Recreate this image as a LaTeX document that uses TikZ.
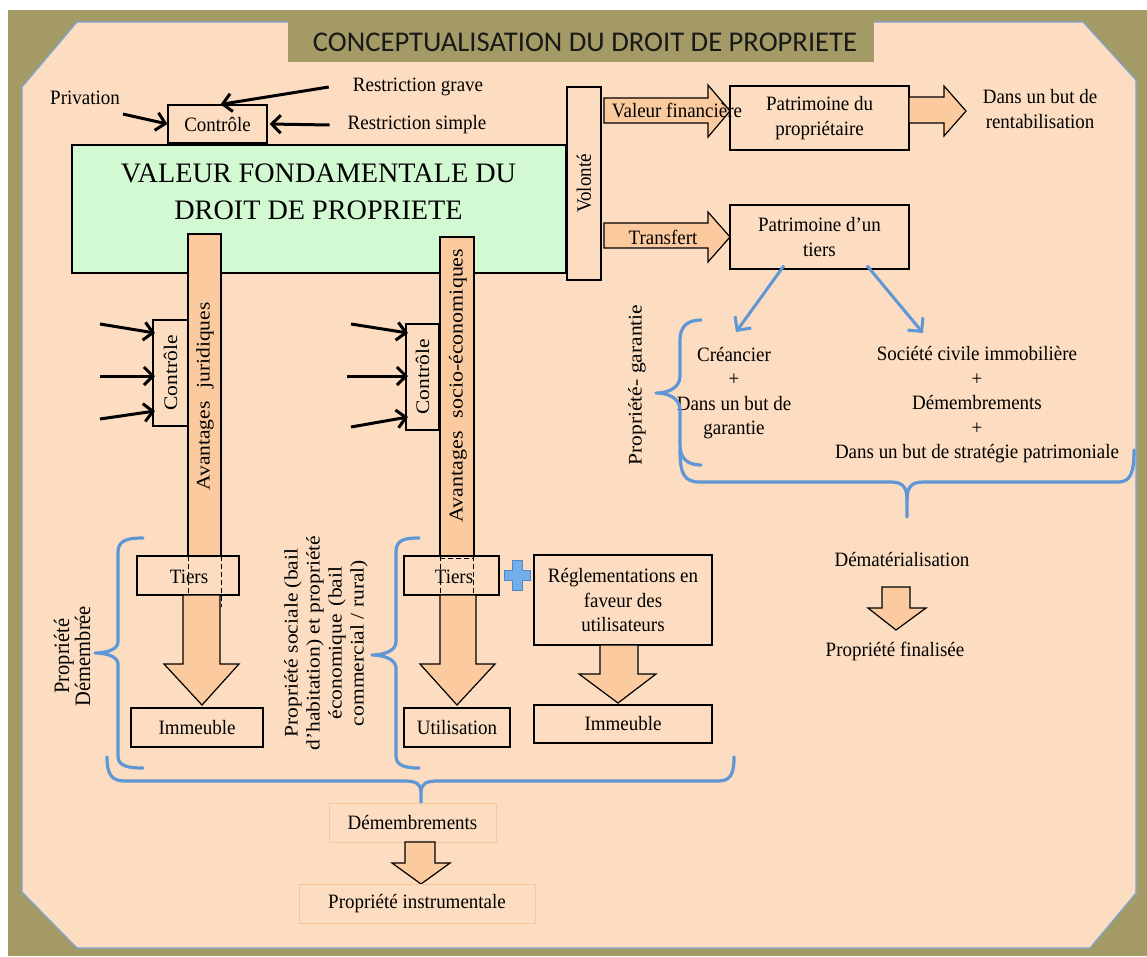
\documentclass[tikz,border=0pt]{standalone}
\usepackage{fontspec}
\setmainfont{Liberation Serif}
\newfontfamily\lblfont[FakeStretch=0.93]{Liberation Serif}
\newfontfamily\titlefont{Carlito}
\newfontfamily\palfont[FakeStretch=1.12]{Liberation Serif}
\usetikzlibrary{arrows.meta}
\definecolor{frameolive}{HTML}{A39A65}
\definecolor{peach}{HTML}{FCDDC1}
\definecolor{barorange}{HTML}{FBCA9F}
\definecolor{mint}{HTML}{D3F9D3}
\definecolor{braceblue}{HTML}{5F97D6}
\definecolor{panelblue}{HTML}{7DA4D6}
\definecolor{lightorange}{HTML}{F9C497}
\definecolor{plusblue}{HTML}{74AEEA}
\definecolor{plusdark}{HTML}{4F86C8}
\newcommand\lblf{\lblfont\fontsize{20.4}{24.5}\selectfont}
\newcommand\bigf{\fontsize{28.2}{37}\selectfont}
\newcommand\ttlf{\titlefont\fontsize{28.6}{34}\selectfont}
\newcommand\palf{\palfont\fontsize{19.2}{22}\selectfont}
\newcommand\pdf{\lblfont\fontsize{22}{21}\selectfont}
\begin{document}
\begin{tikzpicture}[x=1pt,y=-1pt,
  box/.style={draw=black,line width=1.2pt,fill=peach,inner sep=0pt,font=\lblf,align=center},
  lightbox/.style={draw=lightorange,line width=1pt,inner sep=0pt,font=\lblf},
  lbl/.style={font=\lblf,align=center,inner sep=0pt},
  pal/.style={font=\palf,align=center,inner sep=0pt},
  blockarr/.style={draw=black,line width=1.2pt,fill=barorange,line join=miter},
  bar/.style={draw=black,line width=1.2pt,fill=barorange,inner sep=0pt},
  karrow/.style={draw=black,line width=3pt,-{Straight Barb[length=9pt,width=18pt]}},
  barrow/.style={draw=braceblue,line width=3pt,-{Straight Barb[length=10pt,width=20pt]}},
  bracepath/.style={draw=braceblue,line width=3.2pt,line cap=round,line join=round},
  dashline/.style={draw=black,line width=1pt,dash pattern=on 5pt off 3pt}
]
\useasboundingbox (0,0) rectangle (1147,956);
% frame
\fill[white] (0,0) rectangle (1147,956);
\fill[frameolive] (8,10) rectangle (1147,956);
\fill[peach] (77,22) -- (1083,22) -- (1136,80) -- (1136,893) -- (1090,948) -- (77,948) -- (22,892) -- (22,87) -- cycle;
\draw[panelblue,line width=1.2pt] (77,22) -- (1083,22) -- (1136,80) -- (1136,893) -- (1090,948) -- (77,948) -- (22,892) -- (22,87) -- cycle;
\fill[frameolive] (288,10) rectangle (874,62);
\node[font=\ttlf,text=black!90,inner sep=0pt] (title) at (585,42) {CONCEPTUALISATION DU DROIT DE PROPRIETE};

% top control
\node[box,minimum width=99pt,minimum height=38pt] (ctrl) at (217.5,124) {Contrôle};
\node[lbl] (priv) at (85,98) {Privation};
\node[lbl] (rg) at (418,87) {Restriction grave};
\node[lbl] (rs) at (417,125) {Restriction simple};
\draw[karrow] ([shift={(3pt,-9pt)}]priv.south east) -- (ctrl.west);
\draw[karrow] ([xshift=-24pt]rg.west) -- ([xshift=3pt]ctrl.north);
\draw[karrow] ([xshift=-18pt]rs.west) -- ([xshift=2pt]ctrl.east);

% green box
\node[draw=black,line width=1.2pt,fill=mint,minimum width=494pt,minimum height=128pt,inner sep=0pt] (val) at (319,209) {};
\node[font=\bigf,align=center,inner sep=0pt] (valtext) at (318.5,192) {VALEUR FONDAMENTALE DU\\DROIT DE PROPRIETE};

% volonte
\node[box,rotate=90,minimum width=193pt,minimum height=34pt] (vol) at (584,183.5) {Volonté};

% right top arrows
\draw[blockarr] (604,98) -- (708,98) -- (708,85) -- (730,111) -- (708,137) -- (708,123) -- (604,123) -- cycle;
\draw[blockarr] (604,223) -- (708,223) -- (708,212) -- (730,237) -- (708,262) -- (708,248) -- (604,248) -- cycle;
\node[box,minimum width=179pt,minimum height=64pt] (pp) at (819.5,118) {Patrimoine du\\propriétaire};
\node[box,minimum width=179pt,minimum height=64pt] (pt) at (819.5,237) {Patrimoine d’un\\tiers};
\draw[blockarr] (909,97) -- (944,97) -- (944,86) -- (966,111) -- (944,136) -- (944,123) -- (909,123) -- cycle;
\node[lbl] (vf) at (677,110) {Valeur financière};
\node[lbl] (tr) at (663,237) {Transfert};
\node[lbl] (rent) at (1040,109) {Dans un but de\\rentabilisation};

% garantie
\node[lbl] (cr) at (734,393) {Créancier\\+\\Dans un but de\\garantie};
\node[lbl] (sci) at (977,405) {Société civile immobilière\\+\\Démembrements\\+\\Dans un but de stratégie patrimoniale};
\coordinate (crtop) at (736,332);
\coordinate (scitop) at (923,333);
\draw[barrow] ([shift={(-35.5pt,4pt)}]pt.south) -- (crtop);
\draw[barrow] ([shift={(47.5pt,4pt)}]pt.south) -- (scitop);
\node[pal,rotate=90] (gar) at (637,385) {Propriété- garantie};
\draw[bracepath] (701,320) .. controls (688,320) and (680,326) .. (680,340) -- (680,376) .. controls (680,388) and (668,393) .. (656,393) .. controls (668,393) and (680,398) .. (680,410) -- (680,445) .. controls (680,459) and (688,465) .. (701,465);
\draw[bracepath] (680,450) .. controls (680,474) and (684,482) .. (700,482) -- (890,482) .. controls (902,482) and (907,486) .. (907,500) -- (907,517);
\draw[bracepath] (907,500) .. controls (907,486) and (912,482) .. (924,482) -- (1118,482) .. controls (1130,482) and (1134,474) .. (1134,450);
\node[lbl] (demat) at (902,559) {Dématérialisation};
\draw[blockarr] (882,587) -- (910,587) -- (910,608) -- (926,608) -- (896,630) -- (868,608) -- (882,608) -- cycle;
\node[lbl] (pf) at (895,651) {Propriété finalisée};

% left bars
\node[bar,minimum width=33pt,minimum height=322pt] (bj) at (204.5,395) {};
\node[bar,minimum width=34pt,minimum height=319pt] (bs) at (457,396.5) {};
\node[pal,rotate=90] (bjt) at (205,396.5) {Avantages\hspace{13pt}juridiques};
\node[pal,font=\palfont\fontsize{19.6}{22}\selectfont,rotate=90] (bst) at (458,385.5) {Avantages\hspace{13pt}socio-économiques};
\node[box,pal,rotate=90,minimum width=106pt,minimum height=35pt] (c1) at (170.5,373) {Contrôle};
\node[box,pal,rotate=90,minimum width=106pt,minimum height=33pt] (c2) at (422.5,377) {Contrôle};
\coordinate (a1) at (100,324); \coordinate (a2) at (100,376); \coordinate (a3) at (100,419);
\coordinate (a1e) at (155,333); \coordinate (a2e) at (155,376); \coordinate (a3e) at (155,411);
\coordinate (b1) at (351,324); \coordinate (b2) at (347,376); \coordinate (b3) at (351,427);
\coordinate (b1e) at (408,333); \coordinate (b2e) at (408,376); \coordinate (b3e) at (408,417);
\draw[karrow] (a1) -- (a1e);
\draw[karrow] (a2) -- (a2e);
\draw[karrow] (a3) -- (a3e);
\draw[karrow] (b1) -- (b1e);
\draw[karrow] (b2) -- (b2e);
\draw[karrow] (b3) -- (b3e);

% lower left
\node[box,minimum width=102pt,minimum height=39pt] (t1) at (188,575.5) {};
\node[lbl] (t1t) at (189,577) {Tiers};
\draw[dashline] (188,556) -- (188,595);
\draw[dashline] (221,556) -- (221,607);
\draw[blockarr] (183,595) -- (220,595) -- (220,664) -- (239,664) -- (202,705) -- (164,664) -- (183,664) -- cycle;
\node[box,minimum width=132pt,minimum height=39pt] (im1) at (197,727.5) {Immeuble};

\node[box,minimum width=95pt,minimum height=39pt] (t2) at (451.5,575.5) {};
\node[lbl] (t2t) at (454,577) {Tiers};
\draw[dashline] (440,556) -- (440,595);
\draw[dashline] (473,556) -- (473,595);
\draw[dashline] (440,558.5) -- (473,558.5);
\draw[blockarr] (440,595) -- (476,595) -- (476,664) -- (495,664) -- (457,705) -- (420,664) -- (440,664) -- cycle;
\node[box,minimum width=106pt,minimum height=39pt] (ut) at (457,727.5) {Utilisation};
\filldraw[fill=plusblue,draw=plusdark,line width=0.8pt] (512,560) -- (522,560) -- (522,570) -- (530,570) -- (530,580) -- (522,580) -- (522,590) -- (512,590) -- (512,580) -- (504,580) -- (504,570) -- (512,570) -- cycle;
\node[box,minimum width=178pt,minimum height=90pt] (reg) at (623,600) {Réglementations en\\faveur des\\utilisateurs};
\draw[blockarr] (600,645) -- (638,645) -- (638,674) -- (656,674) -- (618,703) -- (579,674) -- (600,674) -- cycle;
\node[box,minimum width=178pt,minimum height=38pt] (im2) at (623,724) {Immeuble};

\node[font=\pdf,align=center,inner sep=0pt,rotate=90] (pd) at (72,656) {Propriété\\Démembrée};
\node[pal,rotate=90] (ps) at (326,643) {Propriété sociale (bail\\d’habitation) et propriété\\économique\hspace{8pt}(bail\\commercial / rural)};
\draw[bracepath] (143,538) .. controls (128,538) and (118,540) .. (118,552) -- (118,642) .. controls (118,650) and (105,653) .. (95,653) .. controls (105,653) and (118,656) .. (118,664) -- (118,756) .. controls (118,766) and (128,768) .. (143,768);
\draw[bracepath] (419,538) .. controls (404,538) and (396,540) .. (396,552) -- (396,642) .. controls (396,651) and (383,655) .. (372,655) .. controls (383,655) and (396,659) .. (396,668) -- (396,756) .. controls (396,766) and (406,768) .. (419,768);
\draw[bracepath] (107,757) .. controls (107,775) and (112,781) .. (125,781) -- (405,781) .. controls (416,781) and (421,784) .. (421,792) -- (421,803);
\draw[bracepath] (421,792) .. controls (421,784) and (426,781) .. (437,781) -- (718,781) .. controls (730,781) and (734,775) .. (734,757);

\node[lightbox,minimum width=167pt,minimum height=39pt] (dm) at (412.5,822.5) {Démembrements};
\draw[blockarr] (405,842) -- (435,842) -- (435,863) -- (450,863) -- (421,884) -- (392,863) -- (405,863) -- cycle;
\node[lightbox,minimum width=236pt,minimum height=39pt] (pi) at (417,903.5) {Propriété instrumentale};
\end{tikzpicture}
\end{document}
